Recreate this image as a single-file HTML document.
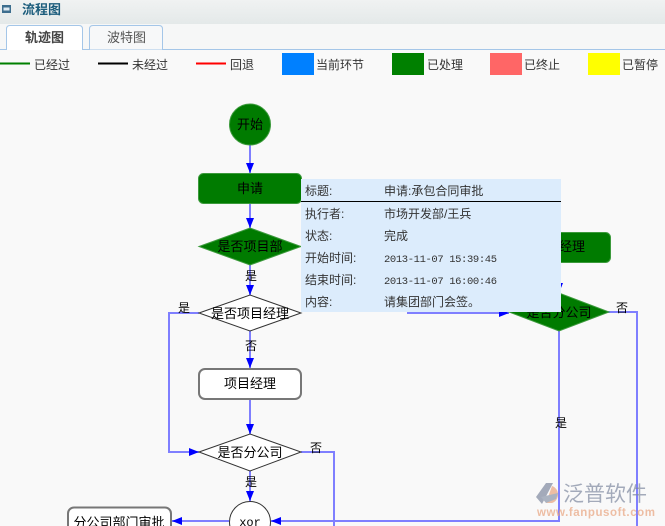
<!DOCTYPE html>
<html><head><meta charset="utf-8"><style>
html,body{margin:0;padding:0;width:665px;height:526px;overflow:hidden;background:#f9f9f9}
svg{display:block}
text{font-family:"Liberation Sans","Noto Sans CJK SC",sans-serif}
.cjk{font-family:"Liberation Sans","Noto Sans CJK SC",sans-serif}
.mono{font-family:"Liberation Mono","Noto Sans CJK SC",monospace}
</style></head><body>
<svg width="665" height="526" viewBox="0 0 665 526" xmlns="http://www.w3.org/2000/svg">
<defs>
<linearGradient id="hg" x1="0" y1="0" x2="0" y2="1"><stop offset="0" stop-color="#f0f2f2"/><stop offset="1" stop-color="#e4e9e9"/></linearGradient>
<marker id="ar" viewBox="0 0 10 8" refX="10" refY="4" markerWidth="10" markerHeight="8" markerUnits="userSpaceOnUse" orient="auto"><path d="M0,0 L10,4 L0,8 Z" fill="#0000ff"/></marker>
</defs>
<rect x="0" y="0" width="665" height="526" fill="#f9f9f9"/>
<!-- header -->
<rect x="0" y="0" width="665" height="24" fill="url(#hg)"/>
<rect x="2" y="5" width="9" height="8" fill="#3d6e8e"/>
<rect x="3.5" y="7.5" width="6" height="3" fill="#dfeaf2"/>
<text x="22" y="14" font-size="13" font-weight="bold" fill="#1b5c7c">流程图</text>
<rect x="0" y="24" width="665" height="25" fill="#f6f7f7"/>
<line x1="0" y1="49.5" x2="665" y2="49.5" stroke="#a4c6e8" stroke-width="1"/>
<path d="M6.5,50 L6.5,29 Q6.5,25.5 10,25.5 L79,25.5 Q82.5,25.5 82.5,29 L82.5,50" fill="#ffffff" stroke="#a4c6e8"/>
<path d="M89.5,49.5 L89.5,29 Q89.5,25.5 93,25.5 L159,25.5 Q162.5,25.5 162.5,29 L162.5,49.5" fill="#f7f8f9" stroke="#a4c6e8"/>
<text x="25" y="42" font-size="13" font-weight="bold" fill="#444">轨迹图</text>
<text x="107" y="42" font-size="13" fill="#555">波特图</text>
<!-- legend -->
<g font-size="12" fill="#333">
<line x1="0" y1="63.5" x2="30" y2="63.5" stroke="#008000" stroke-width="2"/>
<text x="34" y="69">已经过</text>
<line x1="98" y1="63.5" x2="128" y2="63.5" stroke="#000" stroke-width="2"/>
<text x="132" y="69">未经过</text>
<line x1="196" y1="63.5" x2="226" y2="63.5" stroke="#ff0000" stroke-width="2"/>
<text x="230" y="69">回退</text>
<rect x="282" y="53" width="32" height="22" fill="#0080ff"/>
<text x="316" y="69">当前环节</text>
<rect x="392" y="53" width="32" height="22" fill="#008000"/>
<text x="427" y="69">已处理</text>
<rect x="490" y="53" width="32" height="22" fill="#ff6666"/>
<text x="524" y="69">已终止</text>
<rect x="588" y="53" width="32" height="22" fill="#ffff00"/>
<text x="622" y="69">已暂停</text>
</g>
<!-- connectors -->
<g stroke="#7f7fff" stroke-width="2" fill="none">
<line x1="250" y1="145" x2="250" y2="173" marker-end="url(#ar)"/>
<line x1="250" y1="204" x2="250" y2="228" marker-end="url(#ar)"/>
<line x1="250" y1="265" x2="250" y2="295" marker-end="url(#ar)"/>
<polyline points="199,313 169,313 169,452 199,452" marker-end="url(#ar)"/>
<line x1="250" y1="331" x2="250" y2="368" marker-end="url(#ar)"/>
<line x1="250" y1="400" x2="250" y2="434" marker-end="url(#ar)"/>
<polyline points="301,452 334,452 334,530"/>
<line x1="250" y1="471" x2="250" y2="501" marker-end="url(#ar)"/>
<line x1="229" y1="521" x2="172" y2="521" marker-end="url(#ar)"/>
<polyline points="301,246 408,246 408,313 509,313" marker-end="url(#ar)"/>
<line x1="559" y1="262" x2="559" y2="293" marker-end="url(#ar)"/>
<polyline points="608,312 637,312 637,530"/>
<polyline points="559,331 559,521 271,521" marker-end="url(#ar)"/>
</g>
<!-- nodes -->
<g font-size="13" fill="#000" text-anchor="middle">
<circle cx="250" cy="124.5" r="20.5" fill="#007b00" stroke="#3c9a3c"/>
<text x="250" y="129">开始</text>
<rect x="198.5" y="173.5" width="103" height="30" rx="5" fill="#007b00" stroke="#3c9a3c"/>
<text x="250" y="193">申请</text>
<polygon points="199,246.5 250,228 301,246.5 250,265" fill="#007b00" stroke="#3c9a3c"/>
<text x="250" y="251">是否项目部</text>
<polygon points="199,313 250,295 301,313 250,331" fill="#ffffff" stroke="#333"/>
<text x="250" y="318">是否项目经理</text>
<rect x="199" y="369" width="102" height="30" rx="6" fill="#ffffff" stroke="#777" stroke-width="2"/>
<text x="250" y="388">项目经理</text>
<polygon points="199,452 250,434 301,452 250,471" fill="#ffffff" stroke="#333"/>
<text x="250" y="457">是否分公司</text>
<circle cx="250" cy="522" r="20.5" fill="#ffffff" stroke="#333"/>
<text x="250" y="526" class="mono" font-size="12">xor</text>
<rect x="68" y="507.5" width="103" height="30" rx="6" fill="#ffffff" stroke="#777" stroke-width="2"/>
<text x="119" y="527">分公司部门审批</text>
<rect x="508.5" y="232.5" width="102" height="30" rx="5" fill="#007b00" stroke="#3c9a3c"/>
<text x="559" y="251">部门经理</text>
<polygon points="509,312 559,293 609,312 559,331" fill="#007b00" stroke="#3c9a3c"/>
<text x="559" y="317">是否分公司</text>
</g>
<g font-size="12" fill="#000" text-anchor="middle">
<text x="251" y="280">是</text>
<text x="184" y="312">是</text>
<text x="251" y="350">否</text>
<text x="316" y="452">否</text>
<text x="251" y="486">是</text>
<text x="622" y="312">否</text>
<text x="561" y="427">是</text>
</g>
<!-- tooltip -->
<rect x="301" y="179" width="260" height="133" fill="#dcecfc"/>
<line x1="301" y1="201.5" x2="561" y2="201.5" stroke="#000" stroke-width="1"/>
<g font-size="12" fill="#333">
<text x="305" y="195">标题:</text><text x="384" y="195">申请:承包合同审批</text>
<text x="305" y="218">执行者:</text><text x="384" y="218">市场开发部/王兵</text>
<text x="305" y="240">状态:</text><text x="384" y="240">完成</text>
<text x="305" y="262">开始时间:</text><text x="384" y="262" class="mono" font-size="10.5" textLength="113">2013-11-07 15:39:45</text>
<text x="305" y="284">结束时间:</text><text x="384" y="284" class="mono" font-size="10.5" textLength="113">2013-11-07 16:00:46</text>
<text x="305" y="306">内容:</text><text x="384" y="306">请集团部门会签。</text>
</g>
<!-- watermark -->
<g opacity="0.7">
<path d="M546,483 L553,483 L542,504 L536,497 Z" fill="#7f8aa0"/>
<path d="M552,486 A9,9 0 0 1 552,503 L546,503 Z" fill="#e9a47f"/>
<path d="M541,497 L558,493 L556,499 L546,503 Z" fill="#8b96aa"/>
<text x="563" y="501" font-size="21" fill="#7f8aa0">泛普软件</text>
<text x="537" y="516" font-size="11.5" fill="#e9a47f" font-family="Liberation Serif,serif" font-weight="bold" textLength="118">www.fanpusoft.com</text>
</g>
</svg>
</body></html>
